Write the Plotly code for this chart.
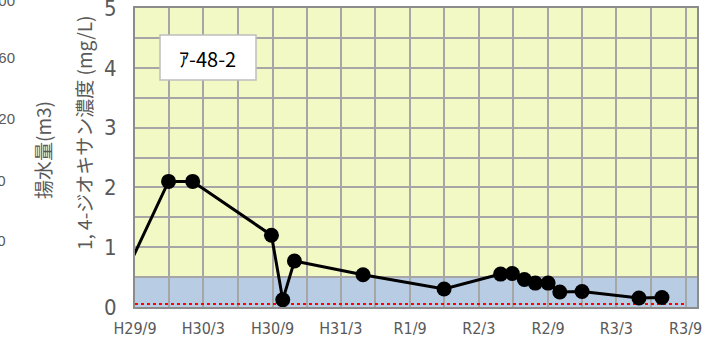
import plotly.graph_objects as go

# sampling dates and 1,4-dioxane concentration (mg/L)
dates = [
    "2017-08-01", "2017-11-29", "2018-02-01", "2018-08-29", "2018-09-28",
    "2018-10-29", "2019-04-29", "2019-11-30", "2020-04-28", "2020-05-29",
    "2020-06-30", "2020-07-29", "2020-09-01", "2020-10-02", "2020-11-30",
    "2021-04-30", "2021-06-30",
]
conc = [
    0.49, 2.10, 2.10, 1.20, 0.12,
    0.77, 0.54, 0.30, 0.55, 0.56,
    0.46, 0.40, 0.40, 0.25, 0.26,
    0.15, 0.16,
]

# environmental standard line
std_dates = ["2017-09-01", "2021-09-01"]
std_value = [0.05, 0.05]

tick_dates = ["2017-09-01", "2018-03-01", "2018-09-01", "2019-03-01", "2019-09-01",
              "2020-03-01", "2020-09-01", "2021-03-01", "2021-09-01"]
tick_text = ["H29/9", "H30/3", "H30/9", "H31/3", "R1/9", "R2/3", "R2/9", "R3/3", "R3/9"]

# clipped tick labels of the neighbouring chart on the left
left_vals = ["200", "160", "120", "80", "40"]
left_ypix = [0, 57, 118, 180, 240]

COLORS = {
    "plot_bg": "#F2F9C4",
    "band":    "#B8CCE4",
    "grid":    "#A6A6A6",
    "frame":   "#8C8C8C",
    "text":    "#595959",
    "line":    "#000000",
    "std":     "#FF0000",
}

W, H = 722, 340
L, R, T, B = 135, 25, 8, 33
PW, PH = W - L - R, H - T - B

NARROW = "Liberation Sans Narrow, DejaVu Sans Condensed, Arial Narrow, sans-serif"
JP = "Noto Sans CJK JP, sans-serif"


def px_x(p):
    return (p - L) / PW


def px_y(p):
    return (H - B - p) / PH


fig = go.Figure()

fig.add_trace(go.Scatter(
    x=std_dates, y=std_value,
    mode="lines",
    line=dict(color=COLORS["std"], width=2, dash="dot"),
    hoverinfo="skip",
    showlegend=False,
))

fig.add_trace(go.Scatter(
    x=dates, y=conc,
    mode="lines+markers",
    line=dict(color=COLORS["line"], width=3),
    marker=dict(size=15, color=COLORS["line"]),
    showlegend=False,
))

# blue band 0-0.5
fig.add_shape(type="rect", xref="paper", yref="y", x0=0, x1=1, y0=0, y1=0.5,
              fillcolor=COLORS["band"], line_width=0, layer="below")

# label box
fig.add_shape(type="rect", xref="paper", yref="paper",
              x0=px_x(160), x1=px_x(256), y0=px_y(80), y1=px_y(35),
              fillcolor="white", line=dict(color="#BFBFBF", width=1.5))
fig.add_annotation(text="ｱ-48-2", xref="paper", yref="paper",
                   x=px_x(207), y=px_y(58), xanchor="center", yanchor="middle",
                   showarrow=False,
                   font=dict(family=JP, size=20, color="black"))

# y axis title
fig.add_annotation(text="1, 4-ジオキサン濃度 (mg/L)", xref="paper", yref="paper",
                   x=px_x(83), y=px_y(133), xanchor="center", yanchor="middle",
                   textangle=-90, showarrow=False,
                   font=dict(family=JP, size=19, color=COLORS["text"]))

# neighbouring chart remnants (cut by the left edge, left-aligned at about -8px)
fig.add_annotation(text="揚水量(m3)", xref="paper", yref="paper",
                   x=px_x(42), y=px_y(150), xanchor="center", yanchor="middle",
                   textangle=-90, showarrow=False,
                   font=dict(family=JP, size=19, color=COLORS["text"]))
for v, yp in zip(left_vals, left_ypix):
    fig.add_annotation(text=v, xref="paper", yref="paper",
                       x=px_x(-8.5 + 8.34 * len(v)), y=px_y(yp),
                       xanchor="right", yanchor="middle",
                       showarrow=False,
                       font=dict(family="Liberation Sans, sans-serif", size=15,
                                 color=COLORS["text"]))

fig.update_layout(
    width=W, height=H,
    margin=dict(l=L, r=R, t=T, b=B, autoexpand=False),
    paper_bgcolor="white",
    plot_bgcolor=COLORS["plot_bg"],
    showlegend=False,
)

fig.update_xaxes(
    type="date",
    range=["2017-09-01", "2021-10-01"],
    tickvals=tick_dates, ticktext=tick_text,
    tickfont=dict(family=NARROW, size=16, color=COLORS["text"]),
    ticklabelstandoff=6,
    automargin=False,
    showgrid=True, gridcolor=COLORS["grid"], gridwidth=1.5,
    minor=dict(dtick="M3", tick0="2017-09-01", showgrid=True,
               gridcolor=COLORS["grid"], gridwidth=1.5),
    showline=True, mirror=True, linecolor=COLORS["frame"], linewidth=2,
    zeroline=False,
)
fig.update_yaxes(
    range=[0, 5],
    dtick=1,
    tickfont=dict(family=NARROW, size=22, color=COLORS["text"]),
    ticklabelstandoff=12,
    ticklabeloverflow="allow",
    automargin=False,
    showgrid=True, gridcolor=COLORS["grid"], gridwidth=1.5,
    minor=dict(dtick=0.5, showgrid=True, gridcolor=COLORS["grid"], gridwidth=1.5),
    showline=True, mirror=True, linecolor=COLORS["frame"], linewidth=2,
    zeroline=False,
)

# drop the default page margin so the figure sits at the window corner
fig.write_html("out.html", config={"displayModeBar": False},
               post_script="document.body.style.margin='0';")
